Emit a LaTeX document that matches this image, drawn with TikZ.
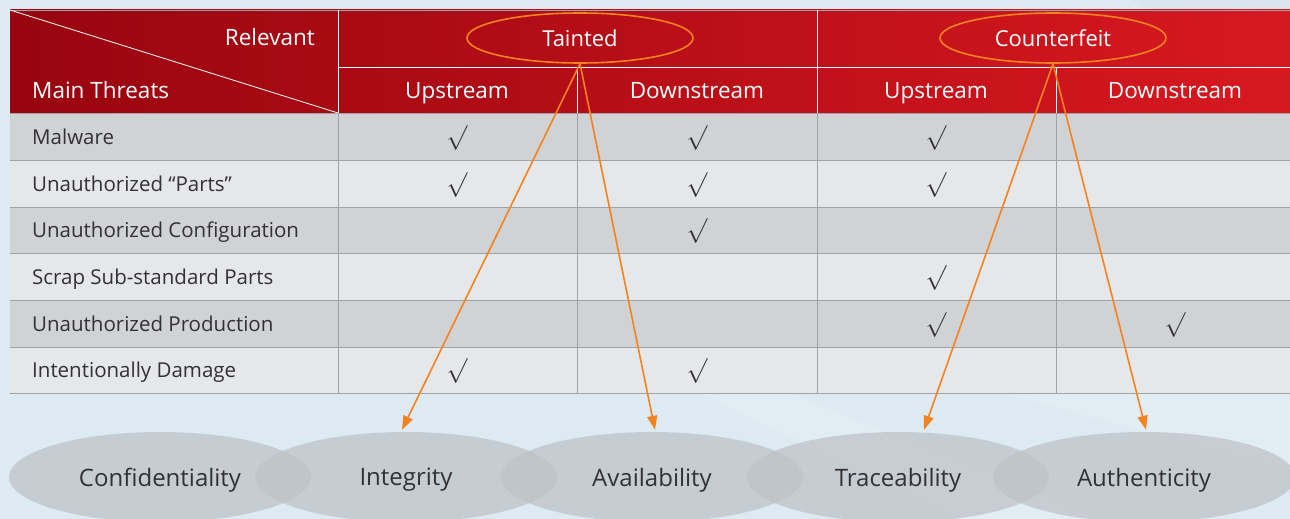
\documentclass[tikz,border=0pt]{standalone}
\usepackage{fontspec}
\setmainfont{Open Sans}
\usetikzlibrary{shapes.geometric,arrows.meta,calc}
\definecolor{bg}{RGB}{221,234,242}
\definecolor{hdA}{RGB}{152,5,15}
\definecolor{hdB}{RGB}{216,24,32}
\definecolor{rowA}{RGB}{209,210,212}
\definecolor{rowB}{RGB}{230,231,233}
\definecolor{gridc}{RGB}{160,162,165}
\definecolor{txt}{RGB}{50,50,52}
\definecolor{orng}{RGB}{245,130,32}
\definecolor{ell}{RGB}{190,194,199}
\tikzset{
  hdtext/.style={text=white,font=\fontsize{22.5}{26}\selectfont,inner sep=0pt},
  bodytext/.style={text=txt,font=\fontsize{20.5}{24}\selectfont,inner sep=0pt,anchor=base west},
  chk/.style={text=txt,font=\fontsize{24}{24}\selectfont,inner sep=0pt},
  topell/.style={ellipse,draw=orng,line width=1.6pt,minimum width=226pt,minimum height=50pt,inner sep=0pt,text depth=0pt,text=white,font=\fontsize{22}{26}\selectfont},
  botell/.style={ellipse,fill=ell,fill opacity=0.72,text opacity=1,minimum width=302pt,minimum height=90pt,inner sep=0pt,text depth=0pt,text=txt,font=\fontsize{24}{28}\selectfont},
  arr/.style={draw=orng,line width=1.6pt,-{Triangle[length=14pt,width=10pt]}},
  hline/.style={draw=white,line width=0.9pt},
  gline/.style={draw=gridc,line width=1pt}
}
\begin{document}
\begin{tikzpicture}[x=1pt,y=-1pt]
\useasboundingbox (0,0) rectangle (1290,519);
\fill[bg] (0,0) rectangle (1290,519);
% faint background facets
\fill[white,opacity=0.15] (700,393) -- (960,519) -- (1100,519) -- (790,393) -- cycle;
\fill[white,opacity=0.15] (1000,393) -- (1290,470) -- (1290,393) -- cycle;
\fill[black!20,opacity=0.12] (1130,0) -- (1290,0) -- (1290,10) -- (1150,10) -- cycle;
% header
\shade[left color=hdA,right color=hdB] (10,10) rectangle (1290,113);
% body rows
\foreach \ya/\yb/\c in {113/160/rowA,160/207/rowB,207/253/rowA,253/300/rowB,300/347/rowA,347/393/rowB}
  \fill[\c] (10,\ya) rectangle (1290,\yb);
% body grid
\foreach \yy in {113,160,207,253,300,347,393}
  \draw[gline] (10,\yy) -- (1290,\yy);
\foreach \xx in {338,577,817,1056}
  \draw[gline] (\xx,113) -- (\xx,393);
\draw[gline,line width=0.8pt] (10,10) -- (1290,10);
% header grid
\draw[hline] (338,67) -- (1290,67);
\draw[hline] (338,10) -- (338,113);
\draw[hline] (817,10) -- (817,113);
\draw[hline] (577,67) -- (577,113);
\draw[hline] (1056,67) -- (1056,113);
\draw[draw=white,line width=0.8pt] (10,10) -- (338,113);
% header texts
\node[hdtext,anchor=base east] (relevant) at (315,46) {Relevant};
\node[hdtext,anchor=base west] (mainthreats) at (32,99) {Main Threats};
\node[hdtext,anchor=base] (up1) at (457,98) {Upstream};
\node[hdtext,anchor=base] (down1) at (697,98) {Downstream};
\node[hdtext,anchor=base] (up2) at (936,98) {Upstream};
\node[hdtext,anchor=base] (down2) at (1175,98) {Downstream};
\node[topell] (tainted) at (580,38) {Tainted};
\node[topell] (counterfeit) at (1053,38) {Counterfeit};
% row labels
\node[bodytext] (r1) at (32,144) {Malware};
\node[bodytext] (r2) at (32,191) {Unauthorized “Parts”};
\node[bodytext] (r3) at (32,237.5) {Unauthorized Configuration};
\node[bodytext] (r4) at (32,284) {Scrap Sub-standard Parts};
\node[bodytext] (r5) at (32,331) {Unauthorized Production};
\node[bodytext] (r6) at (32,377.5) {Intentionally Damage};
% checks
\node[chk] (c11) at (457,138) {$\surd$};
\node[chk] (c12) at (697,138) {$\surd$};
\node[chk] (c13) at (936,138) {$\surd$};
\node[chk] (c21) at (457,185) {$\surd$};
\node[chk] (c22) at (697,185) {$\surd$};
\node[chk] (c23) at (936,185) {$\surd$};
\node[chk] (c32) at (697,231) {$\surd$};
\node[chk] (c43) at (936,278) {$\surd$};
\node[chk] (c53) at (936,325) {$\surd$};
\node[chk] (c54) at (1175,325) {$\surd$};
\node[chk] (c61) at (457,371) {$\surd$};
\node[chk] (c62) at (697,371) {$\surd$};
% bottom ellipses
\node[botell] (conf) at (160,477) {Confidentiality};
\node[botell] (integ) at (406,477) {Integrity};
\node[botell] (avail) at (652,477) {Availability};
\node[botell] (trace) at (898,477) {Traceability};
\node[botell] (auth) at (1144,477) {Authenticity};
% arrows
\draw[arr] (tainted.south) -- ([xshift=-4pt,yshift=2pt]integ.north);
\draw[arr] (tainted.south) -- ([xshift=3pt,yshift=2pt]avail.north);
\draw[arr] (counterfeit.south) -- ([xshift=26pt,yshift=2pt]trace.north);
\draw[arr] (counterfeit.south) -- ([xshift=2pt,yshift=2pt]auth.north);
\end{tikzpicture}
\end{document}
